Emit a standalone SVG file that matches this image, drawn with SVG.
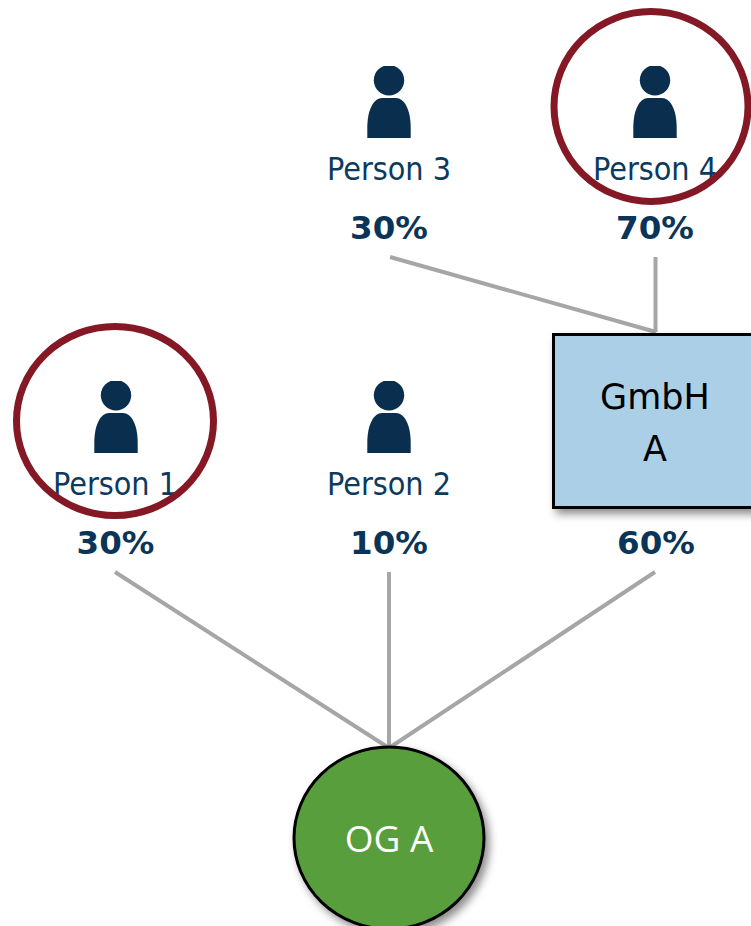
<svg xmlns="http://www.w3.org/2000/svg" width="751" height="926" viewBox="0 0 751 926">
<defs>
<filter id="sh" x="-10%" y="-10%" width="125%" height="125%"><feDropShadow dx="4" dy="5" stdDeviation="4" flood-color="#000" flood-opacity="0.45"/></filter>
<clipPath id="headclip"><rect x="-20" y="0" width="40" height="32"/></clipPath>
<g id="icon"><circle cx="0" cy="14.300" r="15.200" clip-path="url(#headclip)" fill="#0a2e4d"/><path d="M-21.700 72V62C-21.700 43 -15 32 -7 32H7C15 32 21.700 43 21.700 62V72Z" fill="#0a2e4d"/></g>
</defs>
<style>
.nm{font-family:"DejaVu Sans Condensed","DejaVu Sans",sans-serif;font-size:32px;fill:#0b3a5e;text-anchor:middle}
.pc{font-family:"DejaVu Sans","Liberation Sans",sans-serif;font-weight:bold;font-size:32.500px;fill:#0a3558;text-anchor:middle}
.ln{stroke:#a6a6a6;stroke-width:4;fill:none}
.ring{fill:none;stroke:#841824;stroke-width:7}
.blk{font-family:"DejaVu Sans",sans-serif;font-size:35px;text-anchor:middle;fill:#000}
</style>
<rect width="751" height="926" fill="#fff"/>
<g id="connectors">
<line class="ln" x1="390" y1="257" x2="656" y2="332"/>
<line class="ln" x1="655.500" y1="257" x2="655.500" y2="332"/>
<line class="ln" x1="115" y1="572" x2="389" y2="748"/>
<line class="ln" x1="389" y1="572" x2="389" y2="748"/>
<line class="ln" x1="655" y1="572" x2="389" y2="748"/>
</g>
<g id="person3"><use href="#icon" x="389" y="66"/><text class="nm" x="389" y="180">Person 3</text><text class="pc" x="389" y="239">30%</text></g>
<g id="person4"><use href="#icon" x="655" y="66"/><text class="nm" x="655" y="180">Person 4</text><text class="pc" x="655" y="239">70%</text><ellipse class="ring" cx="651" cy="106.500" rx="97" ry="95"/></g>
<g id="person1"><use href="#icon" x="116" y="381"/><text class="nm" x="115" y="495">Person 1</text><text class="pc" x="115.500" y="554">30%</text><ellipse class="ring" cx="115" cy="421" rx="98.500" ry="94.500"/></g>
<g id="person2"><use href="#icon" x="389" y="381"/><text class="nm" x="389" y="495">Person 2</text><text class="pc" x="389" y="554">10%</text></g>
<g id="gmbh-a"><rect x="553.500" y="334.500" width="210" height="173" fill="#aacfe7" stroke="#000" stroke-width="3" filter="url(#sh)"/><text class="blk" x="655" y="409">GmbH</text><text class="blk" x="655" y="461">A</text></g>
<g id="percent-60"><text class="pc" x="656" y="554">60%</text></g>
<g id="og-a"><ellipse cx="389" cy="838" rx="95" ry="91" fill="#589e3e" stroke="#000" stroke-width="3" filter="url(#sh)"/><text x="389" y="852" font-family="Open Sans,DejaVu Sans,sans-serif" font-size="37" text-anchor="middle" fill="#fff">OG A</text></g>
</svg>
